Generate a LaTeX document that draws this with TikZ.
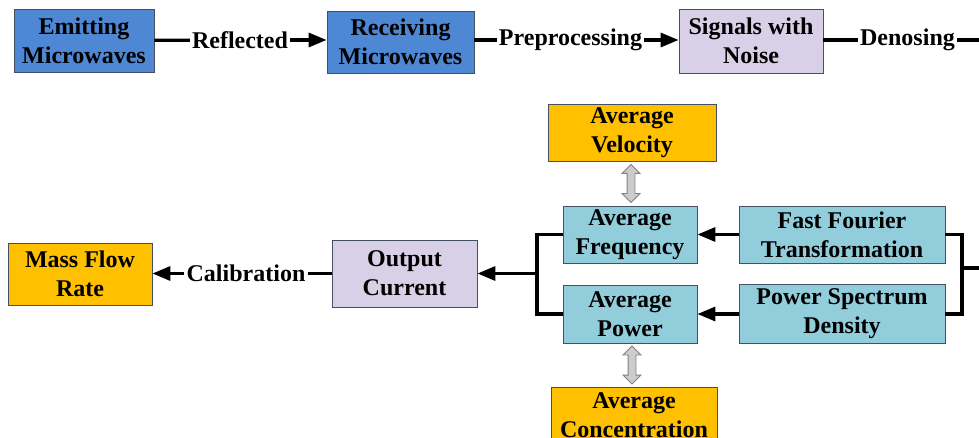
\documentclass[tikz,border=0pt]{standalone}
\usepackage{fontspec}
\setmainfont{Liberation Serif}
\usepackage{tikz}
\usetikzlibrary{arrows.meta, positioning, calc, shapes.arrows}
\usepackage{xcolor}

\definecolor{emblue}{RGB}{78,135,212}
\definecolor{sglav}{RGB}{216,208,230}
\definecolor{avcyan}{RGB}{146,205,220}
\definecolor{resorange}{RGB}{255,192,0}
\definecolor{boxline}{RGB}{70,80,100}

\begin{document}
\begin{tikzpicture}[
    x=1pt, y=-1pt,
    font=\fontsize{24}{29}\selectfont\bfseries,
    block/.style={draw=boxline, line width=0.8pt, align=center, inner sep=0pt},
    src/.style={block, fill=emblue},
    sig/.style={block, fill=sglav},
    feat/.style={block, fill=avcyan, minimum height=57pt},
    res/.style={block, fill=resorange},
    lbl/.style={inner sep=2pt},
    line/.style={line width=3.2pt},
    arr/.style={line, -{Triangle[length=18pt, width=14pt]}},
    dbl/.style={double arrow, draw=gray, fill=gray!40, line width=0.9pt, rotate=90,
        minimum height=38pt, inner xsep=0pt, inner ysep=3.5pt,
        double arrow head extend=5pt}
]
\clip (0,0) rectangle (979,438);

% Row 1
\node[src, minimum width=140pt, minimum height=63pt] (emit) at (84,40.5) {Emitting\\Microwaves};
\node[lbl] (refl) at (240,40) {Reflected};
\node[src, minimum width=147pt, minimum height=62pt] (recv) at (400.5,42) {Receiving\\Microwaves};
\node[lbl] (prep) at (570.5,40) {Preprocessing};
\node[sig, minimum width=144pt, minimum height=64pt] (noise) at (751,41) {Signals with\\Noise};
\node[lbl] (deno) at (907.5,40) {Denosing};
\coordinate (denoend) at (979,40);

% Feature blocks
\node[res, minimum width=168pt, minimum height=57pt] (vel) at (632,132.5) {Average\\Velocity};
\node[feat, minimum width=134pt] (freq) at (630,234.5) {Average\\Frequency};
\node[feat, minimum width=206pt] (fft) at (842,234.5) {Fast Fourier\\Transformation};
\node[feat, minimum width=134pt, minimum height=58pt] (power) at (630,314) {Average\\Power};
\node[feat, minimum width=206pt, minimum height=59pt] (psd) at (842,314) {Power Spectrum\\Density};
\node[res, minimum width=166pt, minimum height=57pt] (conc) at (634,415.5) {Average\\Concentration};

% Gray double arrows
\node[dbl] (velarr) at ($(vel.south)!0.5!(freq.north)$) {};
\node[dbl] (concarr) at ($(power.south)!0.5!(conc.north)$) {};

% Output side
\node[sig, minimum width=145pt, minimum height=67pt] (output) at (404.5,273.5) {Output\\Current};
\node[lbl] (calib) at (246,273.5) {Calibration};
\node[res, minimum width=144pt, minimum height=62pt] (mass) at (80,274) {Mass Flow\\Rate};

% Bracket points
\coordinate (brL) at (537,273.5);
\coordinate (brR) at (962,268);
\coordinate (inR) at (979,268);

% Connections
\draw[line] (emit) -- (refl);
\draw[arr] (refl) -- (recv.west |- refl);
\draw[line] (recv.east |- prep) -- (prep);
\draw[arr] (prep) -- (noise.west |- prep);
\draw[line] (noise.east |- deno) -- (deno);
\draw[line] (deno) -- (denoend);

\draw[line] (inR) -- (brR);
\draw[line] (fft.east) -| (brR) |- (psd.east);
\draw[arr] (fft) -- (freq);
\draw[arr] (psd) -- (power);

\draw[line] (freq.west) -| (brL) |- (power.west);
\draw[arr] (brL) -- (output);

\draw[line] (output) -- (calib);
\draw[arr] (calib) -- (mass.east |- calib);

\end{tikzpicture}
\end{document}
